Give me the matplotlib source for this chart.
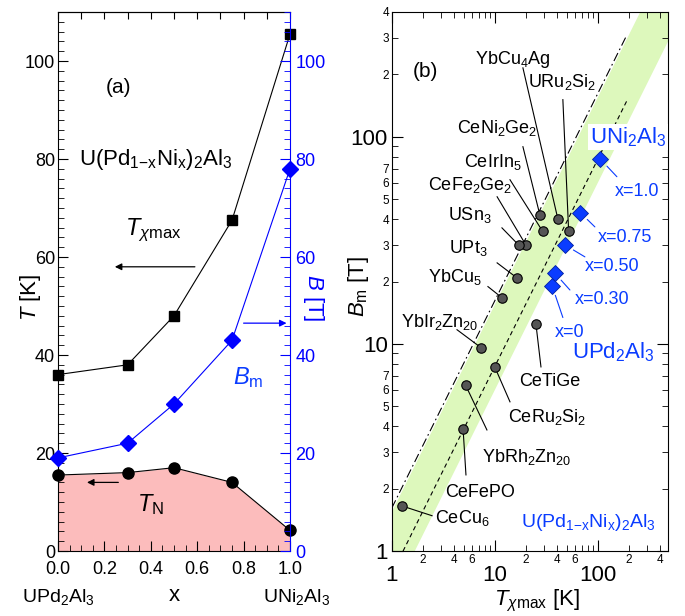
import numpy as np
import matplotlib
matplotlib.use('Agg')
import matplotlib.pyplot as plt
from matplotlib.ticker import MultipleLocator, LogLocator, FuncFormatter

plt.rcParams['font.family'] = ['Liberation Sans', 'DejaVu Sans']
plt.rcParams['mathtext.fontset'] = 'custom'
plt.rcParams['mathtext.rm'] = 'Liberation Sans'
plt.rcParams['mathtext.it'] = 'Liberation Sans:italic'
plt.rcParams['mathtext.bf'] = 'Liberation Sans:bold'

BLUE = '#0a3cff'
AXBLUE = '#0000ff'

# U(Pd1-xNix)2Al3 series
x_ni = [0.0, 0.3, 0.5, 0.75, 1.0]
t_chimax = [36.0, 38.0, 48.0, 67.5, 105.5]
b_m = [19.0, 22.0, 30.0, 43.0, 78.0]
t_n = [15.5, 16.0, 17.0, 14.0, 4.2]
x_names = ['x=0', 'x=0.30', 'x=0.50', 'x=0.75', 'x=1.0']

# other heavy-fermion compounds: T_chimax [K], B_m [T]
compounds = ['YbCu$_4$Ag', 'URu$_2$Si$_2$', 'CeNi$_2$Ge$_2$', 'CeIrIn$_5$',
             'CeFe$_2$Ge$_2$', 'USn$_3$', 'UPt$_3$', 'YbCu$_5$',
             'YbIr$_2$Zn$_{20}$', 'CeTiGe', 'CeRu$_2$Si$_2$',
             'YbRh$_2$Zn$_{20}$', 'CeFePO', 'CeCu$_6$']
comp_t = [40.9, 52.0, 27.3, 29.0, 20.0, 17.0, 16.4, 11.7, 7.3, 25.0, 10.0, 5.2, 4.9, 1.25]
comp_b = [40.0, 35.0, 42.0, 35.0, 30.0, 30.0, 20.8, 16.7, 9.6, 12.5, 7.7, 6.3, 3.9, 1.65]

# label text position and leader start, in data coordinates
comp_text = [(15.0, 235), (44.7, 184), (10.5, 110), (9.6, 75.7), (5.7, 58.6),
             (5.7, 42.0), (5.5, 29.1), (4.1, 21.1), (2.9, 12.8), (34.2, 6.6),
             (32.0, 4.44), (20.5, 2.85), (7.15, 1.91), (4.8, 1.44)]
comp_lead = [(18.7, 215), (45.7, 151), (18.7, 89.5), (14.0, 62.0), (10.5, 51.3),
             (11.7, 36.3), (10.5, 24.6), (8.55, 18.9), (4.28, 11.7), (28.0, 7.74),
             (14.0, 5.25), (8.36, 3.84), (5.23, 2.33), (2.45, 1.48)]
x_text = [(53.5, 11.4), (109, 16.3), (137, 23.5), (183, 32.5), (239, 54.2)]
x_lead = [(45.7, 13.4), (53.5, 18.2), (74.8, 26.3), (93.5, 36.7), (153, 64.1)]

fig = plt.figure(figsize=(6.85, 6.16), dpi=100)
ax = fig.add_axes([58 / 685, 65 / 616, 232 / 685, 539 / 616])
bx = fig.add_axes([392 / 685, 65 / 616, 276 / 685, 539 / 616])

# ---------- panel (a) ----------
ax.fill_between(x_ni, t_n, 0, color='#fcbcbc', lw=0, zorder=1)
ax.plot(x_ni, t_n, 'k-', lw=0.8, zorder=3)
ax.plot(x_ni, t_n, 'ko', ms=8, zorder=4, clip_on=False)
ax.plot(x_ni, t_chimax, 'k-', lw=0.8, zorder=3)
ax.plot(x_ni, t_chimax, 'ks', ms=7.5, zorder=4, clip_on=False)
ax.plot(x_ni, b_m, '-', color=AXBLUE, lw=0.8, zorder=3)
ax.plot(x_ni, b_m, 'D', color=AXBLUE, ms=8, zorder=4, clip_on=False)

ax.set_xlim(0, 1)
ax.set_ylim(0, 110)
ax.xaxis.set_major_locator(MultipleLocator(0.2))
ax.xaxis.set_minor_locator(MultipleLocator(0.05))
ax.yaxis.set_major_locator(MultipleLocator(20))
ax.yaxis.set_minor_locator(MultipleLocator(2))
ax.xaxis.set_major_formatter(FuncFormatter(lambda v, p: '%.1f' % v))
ax.tick_params(which='both', direction='in', top=False, right=False, labelsize=13)
ax.tick_params(which='major', length=7)
ax.tick_params(which='minor', length=4)
ax.tick_params(axis='x', pad=7)
ax.tick_params(axis='y', pad=2)
ax.spines['right'].set_visible(False)
top = ax.secondary_xaxis('top')
top.xaxis.set_major_locator(MultipleLocator(0.1))
top.tick_params(direction='in', length=5, labeltop=False)

ay = ax.twinx()
ay.set_ylim(0, 110)
ay.yaxis.set_major_locator(MultipleLocator(20))
ay.yaxis.set_minor_locator(MultipleLocator(2))
ay.tick_params(which='both', direction='in', colors=AXBLUE, labelsize=13, labelcolor=AXBLUE, pad=4)
ay.tick_params(which='major', length=7)
ay.tick_params(which='minor', length=4)
for s in ['left', 'top', 'bottom']:
    ay.spines[s].set_visible(False)
ay.spines['right'].set_color(AXBLUE)
ay.set_ylabel('$B$ [T]', color=AXBLUE, fontsize=16, rotation=270, va='center')
ay.yaxis.set_label_coords(1.103, 0.47)

ax.set_ylabel('$T$ [K]', fontsize=16, va='center')
ax.yaxis.set_label_coords(-0.12, 0.47)
ax.text(0.5, -0.082, 'x', transform=ax.transAxes, fontsize=16, ha='center', va='center')
ax.text(0.0, -0.085, 'UPd$_2$Al$_3$', transform=ax.transAxes, fontsize=14, ha='center', va='center')
ax.text(1.03, -0.085, 'UNi$_2$Al$_3$', transform=ax.transAxes, fontsize=14, ha='center', va='center')

ax.text(0.26, 94.5, '(a)', fontsize=15, ha='center', va='center')
ax.text(0.42, 80, 'U(Pd$_{1\\mathrm{-x}}$Ni$_\\mathrm{x}$)$_2$Al$_3$', fontsize=16, ha='center', va='center')
ax.text(0.41, 65.5, r'$T_{\chi\mathrm{max}}$', fontsize=17, ha='center', va='center')
ax.annotate('', xy=(0.245, 58), xytext=(0.59, 58),
            arrowprops=dict(arrowstyle='-|>', color='k', lw=0.9, mutation_scale=10, shrinkA=0, shrinkB=0))
ax.annotate('', xy=(0.985, 46.5), xytext=(0.80, 46.5),
            arrowprops=dict(arrowstyle='-|>', color=AXBLUE, lw=0.9, mutation_scale=10, shrinkA=0, shrinkB=0))
ax.text(0.82, 35.5, r'$B_\mathrm{m}$', fontsize=17, color=BLUE, ha='center', va='center')
ax.annotate('', xy=(0.125, 14.0), xytext=(0.26, 14.0),
            arrowprops=dict(arrowstyle='-|>', color='k', lw=0.9, mutation_scale=10, shrinkA=0, shrinkB=0))
ax.text(0.40, 9.5, r'$T_\mathrm{N}$', fontsize=17, ha='center', va='center')

# ---------- panel (b) ----------
bx.set_xscale('log')
bx.set_yscale('log')
bx.set_xlim(1, 480)
bx.set_ylim(1, 400)

tt = np.array([0.3, 1000.0])
bx.fill_between(tt, 0.6 * tt, 1.55 * tt, color='#ddf8bc', lw=0, zorder=0)
tl = np.array([0.5, 190.0])
bx.plot(tl, 1.62 * tl, color='k', lw=0.8, ls=(0, (8, 3, 1.5, 3)), zorder=1)
tl = np.array([1.28, 190.0])
bx.plot(tl, 0.78 * tl, color='k', lw=0.8, ls=(0, (4, 3)), zorder=1)

for name, t, b, (tx, ty), (lx, ly) in zip(compounds, comp_t, comp_b, comp_text, comp_lead):
    bx.plot([t, lx], [b, ly], color='k', lw=0.8, zorder=2)
    bx.text(tx, ty, name, fontsize=13, ha='center', va='center', zorder=3)
bx.plot(comp_t, comp_b, 'o', ms=6.8, mfc='#555555', mec='k', mew=0.8, zorder=4)

for name, t, b, (tx, ty), (lx, ly) in zip(x_names, t_chimax, b_m, x_text, x_lead):
    bx.annotate('', xy=(t, b), xytext=(lx, ly),
                arrowprops=dict(arrowstyle='-', color=BLUE, lw=0.8, shrinkA=0, shrinkB=7))
    bx.text(tx, ty, name, fontsize=13, color=BLUE, ha='center', va='center')
bx.plot(t_chimax, b_m, 'D', ms=8.5, mfc=BLUE, mec='#0020a0', mew=0.6, zorder=5)

bx.text(196, 100, 'UNi$_2$Al$_3$', fontsize=16, color=BLUE, ha='center', va='center',
        bbox=dict(facecolor='white', edgecolor='none', pad=1), zorder=3)
bx.text(140, 9.15, 'UPd$_2$Al$_3$', fontsize=16, color=BLUE, ha='center', va='center')
bx.text(80, 1.38, 'U(Pd$_{1\\mathrm{-x}}$Ni$_\\mathrm{x}$)$_2$Al$_3$', fontsize=14,
        color=BLUE, ha='center', va='center')
bx.text(2.09, 206, '(b)', fontsize=15, ha='center', va='center')


def minor_fmt(keep):
    def f(v, p):
        e = np.floor(np.log10(v) + 1e-9)
        m = int(round(v / 10 ** e))
        return str(m) if m in keep else ''
    return FuncFormatter(f)


bx.xaxis.set_major_locator(LogLocator(base=10))
bx.yaxis.set_major_locator(LogLocator(base=10))
bx.xaxis.set_minor_locator(LogLocator(base=10, subs=np.arange(2, 10)))
bx.yaxis.set_minor_locator(LogLocator(base=10, subs=np.arange(2, 10)))
bx.xaxis.set_major_formatter(FuncFormatter(lambda v, p: '%g' % v))
bx.yaxis.set_major_formatter(FuncFormatter(lambda v, p: '%g' % v))
bx.xaxis.set_minor_formatter(minor_fmt({2, 4, 6}))
bx.yaxis.set_minor_formatter(minor_fmt({2, 3, 4, 5, 6, 7}))
bx.tick_params(which='both', direction='in', top=True, right=True)
bx.tick_params(which='major', length=8, labelsize=16)
bx.tick_params(which='minor', length=4, labelsize=8.5, pad=2)
bx.tick_params(axis='x', which='major', pad=10)
bx.tick_params(axis='y', which='major', pad=3)

bx.set_xlabel(r'$T_{\chi\mathrm{max}}$ [K]', fontsize=16, va='baseline')
bx.xaxis.set_label_coords(0.525, -0.1)
bx.set_ylabel(r'$B_\mathrm{m}$ [T]', fontsize=16, va='center')
bx.yaxis.set_label_coords(-0.123, 0.49)

fig.savefig('out.png', dpi=100)
